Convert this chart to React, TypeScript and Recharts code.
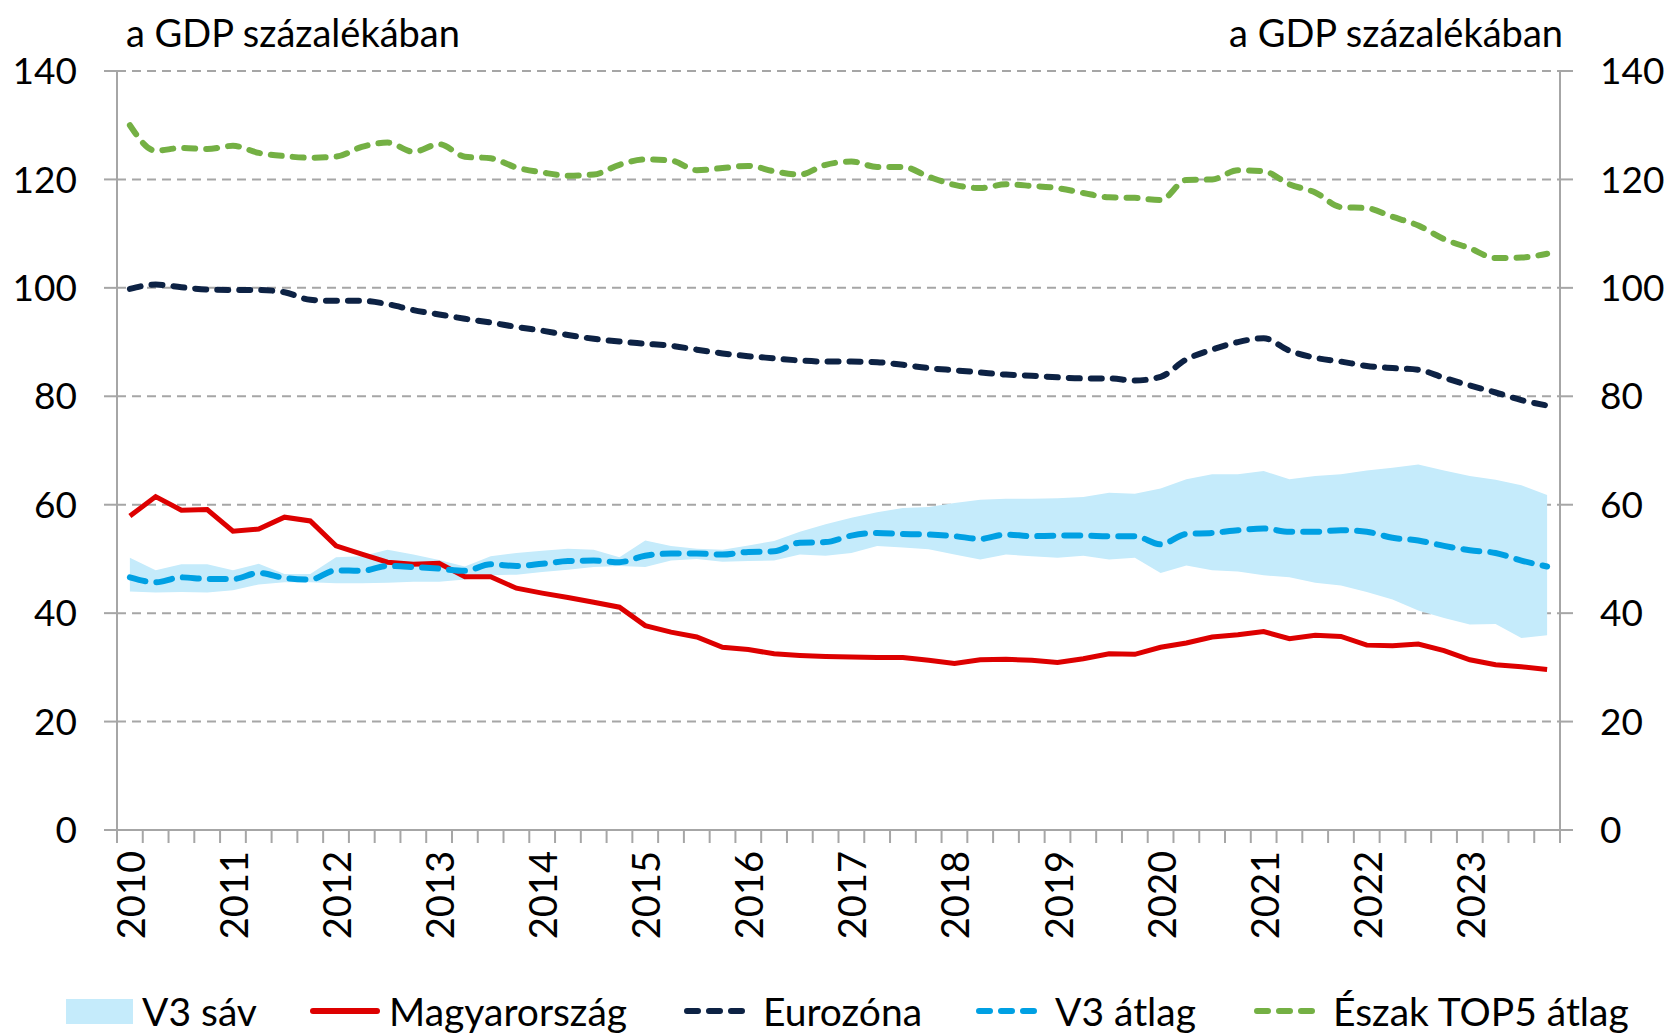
import React from 'react';
import {
  ComposedChart,
  Area,
  Line,
  XAxis,
  YAxis,
  CartesianGrid,
} from 'recharts';

// quarterly data, 2010Q1 - 2023Q4, % of GDP
const years = ['2010', '2011', '2012', '2013', '2014', '2015', '2016', '2017', '2018', '2019', '2020', '2021', '2022', '2023'];

const magyarorszag = [
  57.9, 61.5, 59.0, 59.1, 55.1, 55.5, 57.7, 57.0, 52.4, 50.9, 49.4, 49.0, 49.2, 46.7,
  46.7, 44.6, 43.7, 42.9, 42.0, 41.1, 37.7, 36.5, 35.6, 33.7, 33.3, 32.5, 32.2, 32.0,
  31.9, 31.8, 31.8, 31.3, 30.7, 31.4, 31.5, 31.3, 30.9, 31.6, 32.5, 32.4, 33.7, 34.5,
  35.6, 36.0, 36.6, 35.3, 35.9, 35.7, 34.1, 34.0, 34.3, 33.1, 31.4, 30.5, 30.1, 29.6,
];

const eurozona = [
  99.8, 100.6, 100.1, 99.7, 99.6, 99.6, 99.2, 97.8, 97.6, 97.6, 97.0, 95.9, 95.1, 94.3,
  93.6, 92.8, 92.1, 91.3, 90.6, 90.1, 89.7, 89.3, 88.6, 87.9, 87.4, 87.0, 86.6, 86.4,
  86.4, 86.3, 85.8, 85.2, 84.8, 84.4, 84.0, 83.8, 83.5, 83.3, 83.3, 82.9, 83.6, 86.8,
  88.6, 90.0, 90.7, 88.4, 87.1, 86.4, 85.6, 85.2, 84.9, 83.4, 82.0, 80.7, 79.3, 78.3,
];

const v3Atlag = [
  46.6, 45.7, 46.6, 46.3, 46.3, 47.4, 46.5, 46.2, 47.9, 47.8, 48.7, 48.5, 48.2, 47.8,
  49.0, 48.7, 49.1, 49.6, 49.7, 49.4, 50.6, 51.0, 51.0, 50.8, 51.3, 51.4, 53.0, 53.1,
  54.3, 54.8, 54.6, 54.5, 54.2, 53.7, 54.5, 54.2, 54.3, 54.3, 54.2, 54.2, 52.7, 54.6,
  54.8, 55.3, 55.6, 55.0, 55.0, 55.3, 55.0, 53.9, 53.4, 52.4, 51.6, 51.1, 49.7, 48.6,
];

const v3Also = [
  44.0, 43.8, 43.9, 43.8, 44.2, 45.3, 45.7, 45.7, 45.5, 45.5, 45.6, 45.8, 45.8, 46.2,
  47.0, 47.1, 47.6, 48.0, 48.5, 48.7, 48.5, 49.7, 50.0, 49.5, 49.6, 49.7, 50.8, 50.6,
  51.1, 52.4, 52.1, 51.8, 50.8, 49.9, 50.8, 50.5, 50.2, 50.6, 49.9, 50.2, 47.4, 48.8,
  47.9, 47.7, 47.0, 46.6, 45.6, 45.1, 43.9, 42.5, 40.5, 39.1, 37.9, 38.0, 35.4, 35.9,
];

const v3Felso = [
  50.2, 47.9, 49.0, 49.0, 47.9, 49.1, 47.2, 47.2, 50.3, 50.5, 51.7, 50.8, 49.8, 48.6,
  50.5, 51.1, 51.5, 51.9, 51.7, 50.3, 53.4, 52.4, 51.9, 51.7, 52.5, 53.3, 55.0, 56.4,
  57.6, 58.6, 59.4, 59.6, 60.3, 60.9, 61.1, 61.1, 61.2, 61.4, 62.2, 62.0, 63.0, 64.7,
  65.6, 65.6, 66.2, 64.7, 65.3, 65.6, 66.3, 66.8, 67.4, 66.3, 65.3, 64.6, 63.6, 61.8,
];

const eszakTop5 = [
  130.0, 125.3, 125.8, 125.6, 126.2, 124.9, 124.3, 124.0, 124.2, 126.0, 126.8, 125.1, 126.5, 124.2,
  123.9, 122.2, 121.3, 120.7, 120.9, 122.7, 123.7, 123.5, 121.7, 122.1, 122.5, 121.5, 120.9, 122.7,
  123.3, 122.3, 122.3, 120.5, 119.0, 118.4, 119.1, 118.8, 118.4, 117.5, 116.7, 116.6, 116.2, 119.9,
  120.0, 121.7, 121.5, 119.1, 117.6, 114.9, 114.7, 113.1, 111.5, 109.0, 107.3, 105.5, 105.6, 106.3,
];

const yTicks = [0, 20, 40, 60, 80, 100, 120, 140];

const quarters = years.flatMap((y) => ['Q1', 'Q2', 'Q3', 'Q4'].map((q) => `${y}${q}`));

const data = quarters.map((q, i) => ({
  i,
  q,
  band: [v3Also[i], v3Felso[i]],
  hu: magyarorszag[i],
  ez: eurozona[i],
  v3: v3Atlag[i],
  north: eszakTop5[i],
}));

// tick marks sit between the quarters
const boundaryTicks = Array.from({ length: quarters.length + 1 }, (_, k) => k - 0.5);

const W = 1670;
const H = 1033;
const LEFT_W = 117;
const RIGHT_W = 110;
const PLOT_W = W - LEFT_W - RIGHT_W;
const BAND = PLOT_W / quarters.length;

const FONT = 'Lato, "Open Sans", sans-serif';
const GRAY = '#a6a6a6';
const RED = '#dd0000';
const NAVY = '#0d2244';
const BLUE = '#00a0e3';
const GREEN = '#74b044';
const SHADE = '#c5ebfb';

function YearTick(props: any) {
  const { x, y, payload } = props;
  const idx = payload.value + 0.5;
  if (idx % 4 !== 0 || idx >= quarters.length) return <g />;
  return (
    <text
      x={0}
      y={0}
      transform={`translate(${x + BAND / 2},${y}) rotate(-90)`}
      textAnchor="end"
      dominantBaseline="central"
      fontSize={38}
      fontFamily={FONT}
      fill="#000"
    >
      {years[idx / 4]}
    </text>
  );
}

function LegendMark({ type, color, dash }: { type: string; color: string; dash?: string }) {
  if (type === 'box') {
    return <div style={{ width: 67, height: 25, background: color }} />;
  }
  return (
    <svg width={70} height={12}>
      <line
        x1={3}
        y1={6}
        x2={67}
        y2={6}
        stroke={color}
        strokeWidth={6}
        strokeLinecap="round"
        strokeDasharray={dash}
      />
    </svg>
  );
}

const legendItems = [
  { name: 'V3 sáv', type: 'box', color: SHADE, left: 66 },
  { name: 'Magyarország', type: 'line', color: RED, left: 310 },
  { name: 'Eurozóna', type: 'line', color: NAVY, dash: '11 11', left: 684 },
  { name: 'V3 átlag', type: 'line', color: BLUE, dash: '11 11', left: 976 },
  { name: 'Észak TOP5 átlag', type: 'line', color: GREEN, dash: '11 11', left: 1254 },
];

export default function App() {
  return (
    <div
      style={{
        position: 'absolute',
        left: 0,
        top: 0,
        width: W,
        height: H,
        background: '#fff',
        fontFamily: FONT,
      }}
    >
      <div style={{ position: 'absolute', left: 126, top: 8, fontSize: 38, lineHeight: '48px', color: '#000' }}>
        a GDP százalékában
      </div>
      <div style={{ position: 'absolute', right: W - 1563, top: 8, fontSize: 38, lineHeight: '48px', color: '#000' }}>
        a GDP százalékában
      </div>

      <ComposedChart width={W} height={H} data={data} margin={{ top: 71, right: 0, left: 0, bottom: 73 }}>
        <CartesianGrid
          yAxisId="left"
          vertical={false}
          stroke={GRAY}
          strokeWidth={2}
          strokeDasharray="9 6"
        />
        <XAxis
          type="number"
          dataKey="i"
          domain={[-0.5, quarters.length - 0.5]}
          ticks={boundaryTicks}
          interval={0}
          allowDataOverflow
          height={130}
          tickSize={13}
          tickMargin={8}
          tickLine={{ stroke: GRAY, strokeWidth: 2 }}
          axisLine={{ stroke: GRAY, strokeWidth: 2 }}
          tick={<YearTick />}
        />
        <YAxis
          yAxisId="left"
          width={LEFT_W}
          domain={[0, 140]}
          ticks={yTicks}
          interval={0}
          allowDataOverflow
          tickSize={13}
          tickMargin={27}
          tickLine={{ stroke: GRAY, strokeWidth: 2 }}
          axisLine={{ stroke: GRAY, strokeWidth: 2 }}
          tick={{ fill: '#000', fontSize: 37, fontFamily: FONT }}
        />
        <YAxis
          yAxisId="right"
          orientation="right"
          width={RIGHT_W}
          domain={[0, 140]}
          ticks={yTicks}
          interval={0}
          allowDataOverflow
          tickSize={13}
          tickMargin={27}
          tickLine={{ stroke: GRAY, strokeWidth: 2 }}
          axisLine={{ stroke: GRAY, strokeWidth: 2 }}
          tick={{ fill: '#000', fontSize: 37, fontFamily: FONT }}
        />
        <Area
          yAxisId="left"
          dataKey="band"
          type="linear"
          stroke="none"
          fill={SHADE}
          fillOpacity={1}
          isAnimationActive={false}
        />
        <Line
          yAxisId="left"
          dataKey="hu"
          type="linear"
          stroke={RED}
          strokeWidth={5}
          dot={false}
          isAnimationActive={false}
        />
        <Line
          yAxisId="left"
          dataKey="ez"
          type="monotone"
          stroke={NAVY}
          strokeWidth={6}
          strokeDasharray="11 11"
          strokeLinecap="round"
          dot={false}
          isAnimationActive={false}
        />
        <Line
          yAxisId="left"
          dataKey="v3"
          type="monotone"
          stroke={BLUE}
          strokeWidth={6}
          strokeDasharray="16 11"
          strokeLinecap="round"
          dot={false}
          isAnimationActive={false}
        />
        <Line
          yAxisId="left"
          dataKey="north"
          type="monotone"
          stroke={GREEN}
          strokeWidth={6}
          strokeDasharray="11 11"
          strokeLinecap="round"
          dot={false}
          isAnimationActive={false}
        />
        <Line
          yAxisId="right"
          dataKey="north"
          stroke="none"
          dot={false}
          legendType="none"
          isAnimationActive={false}
        />
      </ComposedChart>

      {legendItems.map((it) => (
        <div
          key={it.name}
          style={{
            position: 'absolute',
            left: it.left,
            top: 989,
            height: 44,
            display: 'flex',
            alignItems: 'center',
            gap: 9,
            fontSize: 39,
            color: '#000',
            whiteSpace: 'nowrap',
          }}
        >
          <LegendMark type={it.type} color={it.color} dash={it.dash} />
          <span>{it.name}</span>
        </div>
      ))}
    </div>
  );
}
